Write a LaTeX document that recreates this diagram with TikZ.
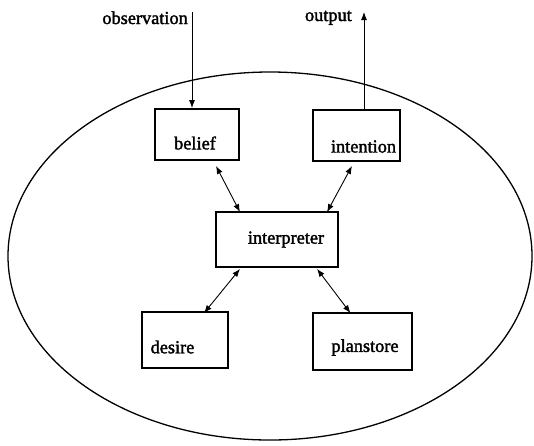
\documentclass[tikz,border=0pt]{standalone}
\usepackage{fontspec}
\setmainfont{Liberation Serif}[BoldFont=Liberation Serif,BoldFeatures={FakeBold=1.8}]
\usetikzlibrary{arrows.meta}
\begin{document}
\begin{tikzpicture}[x=1pt,y=-1pt,
  every node/.append style={font=\fontsize{18.3}{20}\selectfont\bfseries},
  box/.style={draw,line width=1.8pt,inner sep=0pt},
  link/.style={{Latex[length=8pt,width=6pt]}-{Latex[length=8pt,width=6pt]},line width=0.9pt},
  feed/.style={-{Latex[length=8pt,width=6pt]},line width=0.9pt},
  word/.style={inner sep=0pt}]
\useasboundingbox (0,0) rectangle (534,445);
% agent boundary
\draw[line width=1.3pt] (270,256) ellipse [x radius=262,y radius=184];
% boxes
\node[box,minimum width=84pt,minimum height=51pt,label={[xshift=-2pt,yshift=-8.5pt]center:belief}] (belief) at (197,134.5) {};
\node[box,minimum width=87pt,minimum height=51pt,label={[xshift=7pt,yshift=-11pt]center:intention}] (intention) at (356.5,135.5) {};
\node[box,minimum width=122pt,minimum height=55pt,label={[xshift=9pt]center:interpreter}] (interp) at (277,239.5) {};
\node[box,minimum width=86pt,minimum height=56pt,label={[xshift=-12.5pt,yshift=-7pt]center:desire}] (desire) at (185,340) {};
\node[box,minimum width=99pt,minimum height=57pt,label={[xshift=2.5pt,yshift=-6pt]center:planstore}] (planstore) at (362.5,341.5) {};
% input and output
\node[word,anchor=base east] (obs) at (188,24) {observation};
\node[word,anchor=base east] (out) at (352,21) {output};
\coordinate (obstop) at (192,12);
\coordinate (outtop) at (364,12);
\draw[feed] (obstop) -- (obstop |- belief.north);
\draw[feed] (outtop |- intention.north) -- (outtop);
% links to the interpreter
\draw[link] ([xshift=19pt,yshift=-5pt]belief.south) -- ([xshift=-37pt,yshift=-1pt]interp.north);
\draw[link] ([xshift=-4.5pt,yshift=-4pt]intention.south) -- ([xshift=50pt,yshift=-1pt]interp.north);
\draw[link] ([xshift=-37pt,yshift=-1pt]interp.south) -- ([xshift=19pt,yshift=-2pt]desire.north);
\draw[link] ([xshift=40pt,yshift=-1pt]interp.south) -- ([xshift=-12pt,yshift=-1pt]planstore.north);
\end{tikzpicture}
\end{document}
